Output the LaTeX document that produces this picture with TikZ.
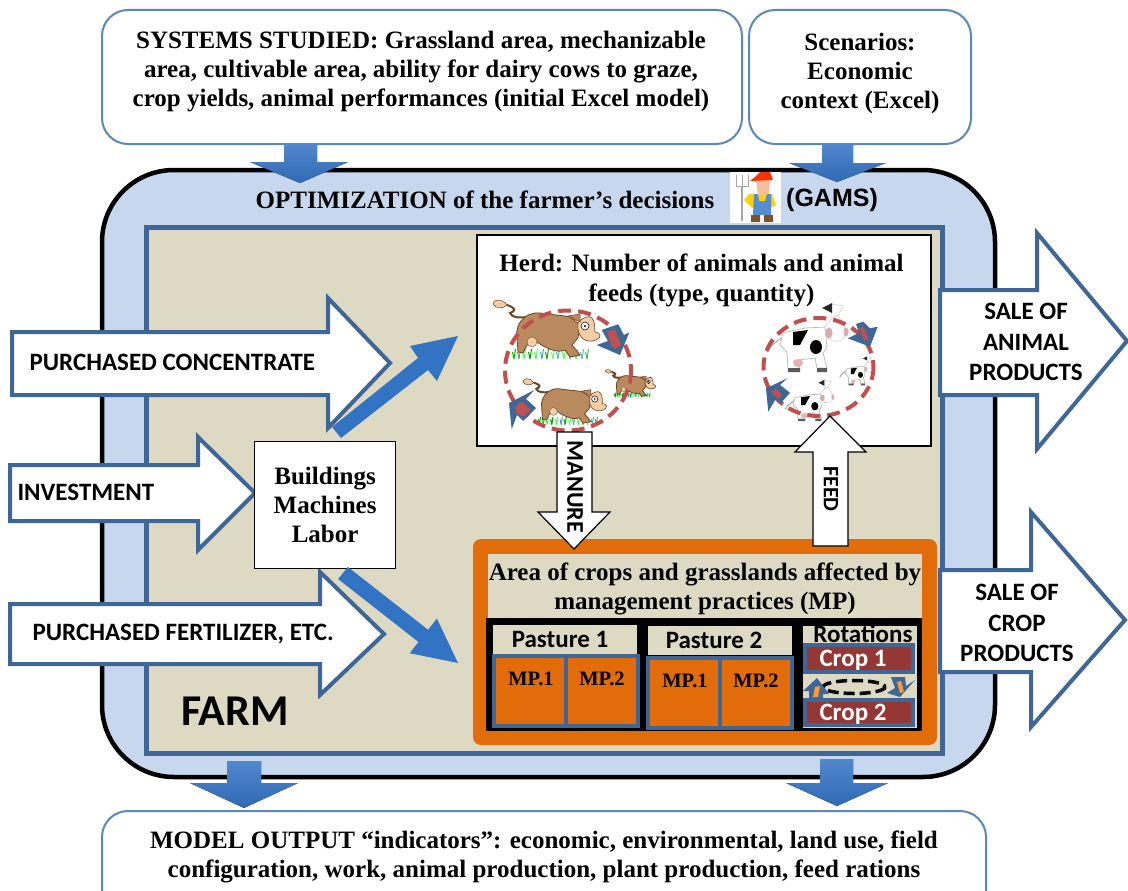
\documentclass[tikz,border=0pt]{standalone}
\usepackage{fontspec}
\setmainfont{Liberation Serif}
\newfontfamily\calb{Carlito}[BoldFont={Carlito Bold}]
\newfontfamily\arb{Liberation Sans}
\usetikzlibrary{arrows.meta,calc}
\definecolor{skyb}{HTML}{C6D7EE}
\definecolor{tan}{HTML}{DDD9C3}
\definecolor{steel}{HTML}{3E6696}
\definecolor{boxline}{HTML}{5A87BC}
\definecolor{orng}{HTML}{E36C0A}
\definecolor{brick}{HTML}{953735}
\definecolor{redd}{HTML}{C0504D}
\definecolor{bluea}{HTML}{3373C4}
\definecolor{cowb}{HTML}{B98A5E}
\definecolor{cowd}{HTML}{6B4526}
\definecolor{cowl}{HTML}{F3CDA4}
\tikzset{
 sb/.style={font=\bfseries\fontsize{25}{29}\selectfont,align=center,text=black},
 cb/.style={font=\calb\bfseries\fontsize{25}{30.5}\selectfont,align=center,text=black},
 topbox/.style={draw=boxline,line width=2pt,fill=white,rounded corners=26pt},
 blockw/.style={draw=steel,line width=4pt,fill=white,miter limit=10},
 blockk/.style={draw=black,line width=1.2pt,fill=white},
 flow/.style={top color=bluea!85!white,bottom color=bluea!92!black,draw=none},
 mp/.style={draw=steel,line width=4pt,fill=orng},
 mpt/.style={font=\bfseries\fontsize{20.5}{22}\selectfont,text=black},
 pt/.style={font=\calb\bfseries\fontsize{25}{26}\selectfont,text=black},
 crop/.style={draw=steel,line width=4pt,fill=brick},
 cropt/.style={font=\calb\bfseries\fontsize{25}{26}\selectfont,text=white,inner sep=0pt,text height=15pt,text depth=0pt},
 ring/.style={draw=redd,line width=4pt,dash pattern=on 13pt off 7pt},
 diag/.style={fill=bluea,draw=none}
}
\newcommand\brownCow[3]{\begin{scope}[shift={(#1,#2)},scale=#3]
 \draw[cowd,line width=2pt,fill=none] (-45,-30) .. controls (-37,-27) and (-35,-25) .. (-42,-22) .. controls (-40,-17) and (-32,-17) .. (-25,-18);
 \fill[cowl,draw=cowd,line width=.5pt] (-45,-30) .. controls (-50,-37) and (-59,-36) .. (-59,-31) .. controls (-56,-26) and (-49,-26) .. (-45,-30);
 \foreach \gx/\gc in {-38/green!70!black,-33/green!50!gray,-28/green!70,-22/green!60!black,-16/green!70,-10/teal!70,-5/green!70!black,1/green!60,6/teal!60,12/green!70,18/green!50!gray,24/green!70,30/teal!60,35/green!60!gray}
  {\draw[\gc,line width=1pt] (\gx,24) -- (\gx+1.5,14) (\gx,24) -- (\gx-1.5,17);}
 \fill[cowb,draw=cowd,line width=.8pt] (-27,-18) .. controls (-20,-23) and (-14,-22) .. (-12,-22) .. controls (0,-20) and (10,-20) .. (18,-18) -- (28,-10) -- (26,3) -- (20,10) -- (28,20) -- (18,22) -- (13,15) .. controls (5,19) and (-8,12) .. (-15,7) -- (-25,10) -- (-29,18) -- (-34,17) -- (-35,2) .. controls (-36,-6) and (-34,-12) .. (-27,-18) -- cycle;
 \fill[cowl,draw=cowd,line width=.3pt] (-20,7) circle (5);
 \fill[cowl,draw=cowd,line width=.6pt] (26,-12) .. controls (30,-18) and (38,-20) .. (40,-17) .. controls (44,-12) and (42,-6) .. (43,-3) .. controls (49,-3) and (50,3) .. (44,5) .. controls (40,7) and (35,6) .. (33,5) .. controls (28,3) and (25,-4) .. (26,-12) -- cycle;
 \fill[cowb,draw=cowd,line width=.5pt] (16,-19) -- (28,-21) -- (28,-13) -- cycle;
 \fill[white,draw=black,line width=.5pt] (33,-9) circle (4);
 \fill[black] (33,-9) circle (1.2);
\end{scope}}
\newcommand\whiteCow[3]{\begin{scope}[shift={(#1,#2)},scale=#3]
 \draw[gray!70,line width=1pt] (-20,-8) -- (-31,0) -- (-36,7);
 \fill[white,draw=gray!50,line width=.8pt] (-20,-12) -- (2,-17) -- (22,-18) -- (24,3) -- (20,8) -- (24,23) -- (14,23) -- (12,13) -- (-5,15) -- (-3,23) -- (-15,24) -- (-16,7) -- (-23,0) -- cycle;
 \fill[black] (-10,-13) -- (5,-15) -- (-3,0) -- (-10,0) -- cycle;
 \fill[black] (13,2) ellipse (6 and 7);
 \fill[pink!80!gray] (-5,18) ellipse (5 and 4);
 \fill[gray!70!black] (14,23) rectangle (24,27) (-15,23) rectangle (-3,27);
 \fill[white,draw=gray!40,line width=.5pt] (22,-18) -- (29,-27) -- (35,-30) -- (44,-13) .. controls (44,-4) and (30,0) .. (24,-8) -- cycle;
 \fill[pink!70!gray] (26,-12) ellipse (3.5 and 5.5);
 \fill[pink!70!gray] (43,-13) ellipse (2.5 and 4.5);
 \fill[white,draw=gray!40,line width=.5pt] (28,-41) -- (40,-39) -- (35,-30) -- (29,-27) -- cycle;
 \fill[black!85] (19,-37) -- (29,-42) -- (29,-32) -- cycle;
\end{scope}}
\begin{document}
\begin{tikzpicture}[x=1pt,y=-1pt]
\useasboundingbox (0,0) rectangle (1128,891);
\fill[white] (0,0) rectangle (1128,891);
% top boxes
\draw[topbox] (102,10) rectangle (742,144);
\draw[topbox] (749,10) rectangle (971,144);
\node[sb] (sys) at (421,72) {SYSTEMS STUDIED: Grassland area, mechanizable\\area, cultivable area, ability for dairy cows to graze,\\crop yields, animal performances (initial Excel model)};
\node[sb] (scen) at (860,73) {Scenarios:\\Economic\\context (Excel)};
% bottom box
\draw[topbox] (102,811) rectangle (986,920);
\node[sb] (out) at (544,857) {MODEL OUTPUT “indicators”: economic, environmental, land use, field\\configuration, work, animal production, plant production, feed rations};
% main container
\draw[draw=black,line width=4.5pt,fill=skyb,rounded corners=72pt] (102,170) rectangle (995,777);
\draw[draw=steel,line width=5pt,fill=tan] (146,227) rectangle (942,753);
% flows top/bottom
\fill[flow] (284,144) -- (317,144) -- (317,162) -- (348,162) -- (300,183) -- (250,162) -- (284,162) -- cycle;
\fill[flow] (822,144) -- (853,144) -- (853,163) -- (886,163) -- (837,182) -- (789,163) -- (822,163) -- cycle;
\fill[flow] (227,761) -- (261,761) -- (261,783) -- (298,783) -- (244,808) -- (190,783) -- (227,783) -- cycle;
\fill[flow] (820,759) -- (853,759) -- (853,783) -- (888,783) -- (837,806) -- (786,783) -- (820,783) -- cycle;
% title
\node[sb] (opt) at (485,200) {OPTIMIZATION of the farmer’s decisions};
\fill[white] (730,172) rectangle (781,223);
\node[font=\arb\bfseries\fontsize{25}{26}\selectfont,text=black] (gams) at (832,200) {(GAMS)};
% farmer
\begin{scope}
 \draw[gray!70,line width=1.2pt] (742,186) -- (742,221);
 \draw[gray!70,line width=1pt] (736,175) -- (736,186) -- (748,186) -- (748,175) (742,175) -- (742,186);
 \fill[yellow!70!orange] (749,194) -- (772,194) -- (776,205) -- (770,208) -- (752,208) -- (744,200) -- cycle;
 \fill[cyan!50!blue!70] (754,194) -- (758,194) -- (759,201) -- (765,201) -- (767,194) -- (771,194) -- (771,215) -- (753,215) -- cycle;
 \fill[brown!65!black] (751,215) rectangle (760,222) (764,215) rectangle (773,222);
 \fill[red!35!orange!35!white!90!brown] (756,180) -- (770,180) -- (769,194) -- (758,195) -- cycle;
 \fill[red!60!orange] (755,177) -- (760,172) -- (770,172) -- (773,180) -- (750,181) -- cycle;
\end{scope}
% herd
\node[draw=black,line width=2pt,fill=white,minimum width=454pt,minimum height=211pt,inner sep=0pt,anchor=north west] (herd) at (476,234) {};
\node[sb,font=\bfseries\fontsize{25}{30}\selectfont] (herdt) at (701.5,280) {Herd: Number of animals and animal\\feeds (type, quantity)};
\brownCow{552}{335}{1.0}
\brownCow{569}{406}{0.78}
\brownCow{633}{386}{0.47}
\whiteCow{803}{345}{1}
\whiteCow{855}{374}{0.42}
\whiteCow{807}{405}{0.6}
\draw[ring] (568,370.5) ellipse (63 and 60);
\draw[ring] (818.5,367) ellipse (55 and 49);
% ring arrows
\fill[steel] (601.7,330) -- (618.3,324.3) -- (624,335) -- (629.3,332.3) -- (620,355) -- (596.7,345) -- (608,341) -- cycle;
\fill[redd] (607.3,331.7) -- (615,329.3) -- (621,345) -- (615,349) -- (611,345) -- cycle;
\fill[steel] (509,403) -- (534.3,390) -- (526,399) -- (536,408) -- (523,421) -- (517,415) -- (511.7,429.3) -- cycle;
\fill[redd] (515,407) -- (521.7,401.7) -- (530.7,410) -- (523.3,416.7) -- (516.7,413.3) -- cycle;
\fill[steel] (863.3,321.7) -- (870,328.3) -- (877.7,326.7) -- (870,346.7) -- (847.7,338.3) -- (859,333) -- (856,324) -- cycle;
\fill[redd] (859,328.3) -- (863.3,326.7) -- (868.3,338.3) -- (864.3,340.7) -- cycle;
\fill[steel] (766,388.3) -- (787.3,378.3) -- (780,385) -- (790,392.7) -- (780.7,403.3) -- (775.7,399) -- (768.3,411.7) -- cycle;
\fill[redd] (771,391.7) -- (775.7,389) -- (782.3,394.3) -- (777.7,399) -- cycle;
% side arrows
\draw[blockw] (12,332) -- (328,332) -- (328,298) -- (390,363) -- (328,428) -- (328,395) -- (12,395) -- cycle;
\node[cb,anchor=west] (conc) at (26,362) {PURCHASED CONCENTRATE};
\draw[blockw] (10,465) -- (198,465) -- (198,437) -- (255,493) -- (198,550) -- (198,521) -- (10,521) -- cycle;
\node[cb,anchor=west] (inv) at (14,492) {INVESTMENT};
\draw[blockw] (10,604) -- (320,604) -- (320,572) -- (384,634) -- (320,695) -- (320,664) -- (10,664) -- cycle;
\node[cb,anchor=west] (fert) at (29,634) {PURCHASED FERTILIZER, ETC.};
\draw[blockw] (940,290) -- (1037,290) -- (1037,233) -- (1127,341) -- (1037,449) -- (1037,395) -- (940,395) -- cycle;
\node[cb] (sa) at (1026,342) {SALE OF\\ANIMAL\\PRODUCTS};
\draw[blockw] (940,570) -- (1031,570) -- (1031,512) -- (1125,620) -- (1031,727) -- (1031,672) -- (940,672) -- cycle;
\node[cb] (sc) at (1017,623) {SALE OF\\CROP\\PRODUCTS};
% buildings
\node[draw=black,line width=1.2pt,fill=white,minimum width=141pt,minimum height=127pt,inner sep=0pt,anchor=north west,sb] (bml) at (254,441) {Buildings\\Machines\\Labor};
\fill[diag] (332,427) -- (418,358) -- (410,346) -- (458,336) -- (437,381) -- (428,370) -- (341,438) -- cycle;
\fill[diag] (338.2,579.1) -- (347.8,566.9) -- (428.1,629.8) -- (436.9,618.6) -- (458,663) -- (409.7,653.2) -- (418.5,642) -- cycle;
% crop area
\draw[fill=orng,draw=none,rounded corners=8pt] (473,539) rectangle (937,745);
\fill[tan] (488,554) rectangle (922,620);
\node[sb] (area) at (705,589) {Area of crops and grasslands affected by\\management practices (MP)};
\fill[black] (486,618) rectangle (922,731);
\fill[tan] (493,625) rectangle (637,655);
\fill[tan] (648,626) rectangle (792,655);
\fill[tan] (803,626) rectangle (917,728);
\node[pt] (p1) at (560,639) {Pasture 1};
\node[pt] (p2) at (714,640) {Pasture 2};
\node[pt,inner sep=0pt,text height=14pt,text depth=0pt] (rot) at (863,635) {Rotations};
\draw[mp] (494,656) rectangle (566,726);
\draw[mp] (566,656) rectangle (638,726);
\draw[mp] (648,658) rectangle (720,728);
\draw[mp] (720,658) rectangle (792,728);
\node[mpt] (m1) at (531,679) {MP.1};
\node[mpt] (m2) at (602,679) {MP.2};
\node[mpt] (m3) at (685,681) {MP.1};
\node[mpt] (m4) at (756,681) {MP.2};
\node[crop,minimum width=108pt,minimum height=27pt,inner sep=0pt] (c1) at (859,658.5) {};
\node[crop,minimum width=108pt,minimum height=25pt,inner sep=0pt] (c2) at (859,712.5) {};
\node[cropt] (c1t) at (853,659) {Crop 1};
\node[cropt] (c2t) at (853,713) {Crop 2};
\draw[black,line width=3.5pt,dash pattern=on 11pt off 5pt] (854,687) ellipse (31 and 6.5);
\fill[steel] (817,678) -- (829,694) -- (823,694) -- (823,699) -- (809,699) -- (809,691) -- (803,691) -- cycle;
\fill[orange!80!white] (815,687) -- (820,686) -- (818,697) -- (813,697) -- cycle;
\fill[steel] (891,677) -- (905,677) -- (906,686) -- (915,680) -- (900,697) -- (887,693) -- (895,688) -- cycle;
\fill[orange!80!white] (897,682) -- (901,681) -- (904,692) -- (900,693) -- cycle;
% manure / feed
\draw[blockk] (557,432) -- (592,432) -- (592,512) -- (610,512) -- (574,549) -- (538,512) -- (557,512) -- cycle;
\node[font=\calb\bfseries\fontsize{24}{26}\selectfont,rotate=-90] (man) at (575,487) {MANURE};
\draw[blockk] (813,546) -- (848,546) -- (848,452) -- (866,452) -- (830,416) -- (795,452) -- (813,452) -- cycle;
\node[font=\calb\bfseries\fontsize{22}{24}\selectfont,rotate=-90] (feed) at (831,489) {FEED};
\node[font=\calb\bfseries\fontsize{44}{48}\selectfont,text=black] (farm) at (235,711) {FARM};
\end{tikzpicture}
\end{document}
